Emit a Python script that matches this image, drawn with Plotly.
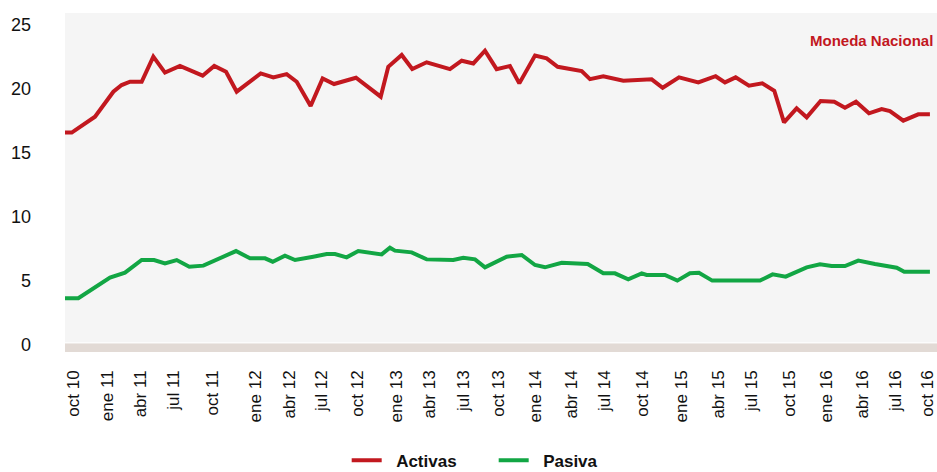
import plotly.graph_objects as go

# x: months elapsed since oct 2010, y: rate in %
activas_x = [0, 0.56, 2.5, 3.19, 4.03, 4.72, 5.42, 6.39, 7.36, 8.33, 9.58, 11.47, 12.44, 13.42,
             14.31, 16.31, 17.36, 18.47, 19.31, 20.47, 21.47, 22.42, 24.25, 26.31, 26.94, 28.06,
             28.94, 30.14, 32.08, 33.06, 34.03, 35.0, 35.97, 37.08, 37.86, 39.17, 40.14, 41.06,
             43.06, 43.75, 44.86, 46.53, 48.89, 49.81, 51.17, 52.78, 54.22, 55.0, 55.89, 57.0,
             58.11, 59.11, 59.92, 60.97, 61.81, 62.97, 64.11, 65.0, 65.92, 67.0, 68.06, 68.75,
             69.86, 71.11, 72.08]
activas_y = [16.6, 16.6, 17.84, 18.75, 19.79, 20.31, 20.57, 20.57, 22.53, 21.28, 21.8, 21.04, 21.8,
             21.35, 19.79, 21.22, 20.91, 21.17, 20.57, 18.67, 20.83, 20.39, 20.88, 19.4, 21.74,
             22.66, 21.56, 22.09, 21.56, 22.21, 22.0, 22.99, 21.55, 21.8, 20.44, 22.62, 22.4,
             21.74, 21.4, 20.77, 21.0, 20.65, 20.76, 20.1, 20.91, 20.52, 21.0, 20.52, 20.91,
             20.26, 20.44, 19.87, 17.4, 18.49, 17.79, 19.06, 19.01, 18.54, 19.01, 18.1, 18.44,
             18.28, 17.53, 18.02, 18.02]

pasiva_x = [0, 1.11, 3.75, 5.0, 6.39, 7.42, 8.33, 9.31, 10.36, 11.53, 14.25, 15.42, 16.67, 17.31,
            18.33, 19.17, 20.69, 21.81, 22.5, 23.47, 24.44, 25.69, 26.39, 27.08, 27.5, 28.89,
            30.14, 32.36, 33.19, 34.17, 35.0, 36.81, 38.06, 39.17, 40.0, 41.39, 43.56, 44.86,
            45.83, 46.94, 48.06, 48.47, 50.0, 51.03, 52.08, 52.83, 53.94, 57.92, 58.97, 60.06,
            61.81, 62.92, 63.89, 65.0, 66.11, 67.5, 69.31, 69.94, 72.08]
pasiva_y = [3.65, 3.65, 5.26, 5.65, 6.64, 6.64, 6.38, 6.64, 6.12, 6.2, 7.34, 6.77, 6.77, 6.51,
            6.98, 6.64, 6.9, 7.11, 7.11, 6.85, 7.34, 7.21, 7.08, 7.6, 7.37, 7.24, 6.69, 6.64,
            6.82, 6.69, 6.07, 6.9, 7.03, 6.25, 6.07, 6.43, 6.33, 5.6, 5.6, 5.13, 5.6, 5.47, 5.47,
            5.03, 5.6, 5.65, 5.03, 5.03, 5.52, 5.34, 6.07, 6.3, 6.17, 6.17, 6.59, 6.33, 6.04,
            5.73, 5.73]

tick_pos = [0.67, 3.5, 6.33, 9.08, 12.25, 15.9, 18.67, 21.4, 24.4, 27.6, 30.4, 33.2, 36.1,
            39.2, 42.25, 45.0, 48.1, 51.4, 54.5, 57.25, 60.4, 63.5, 66.5, 69.2, 71.9]
tick_text = ["oct 10", "ene 11", "abr 11", "jul 11", "oct 11", "ene 12", "abr 12", "jul 12",
             "oct 12", "ene 13", "abr 13", "jul 13", "oct 13", "ene 14", "abr 14", "jul 14",
             "oct 14", "ene 15", "abr 15", "jul 15", "oct 15", "ene 16", "abr 16", "jul 16",
             "oct 16"]
y_ticks = [0, 5, 10, 15, 20, 25]

RED = "#c2181f"
GREEN = "#12a644"
FONT = "Liberation Sans, Arial, sans-serif"
NB = "\u00a0\u00a0"

fig = go.Figure()
fig.add_trace(go.Scatter(x=activas_x, y=activas_y, mode="lines", name=NB + "<b>Activas</b>",
                         line=dict(color=RED, width=4)))
fig.add_trace(go.Scatter(x=pasiva_x, y=pasiva_y, mode="lines", name=NB + "<b>Pasiva</b>",
                         line=dict(color=GREEN, width=4)))

# bottom band under zero line
fig.add_shape(type="rect", xref="paper", yref="y", x0=0, x1=1, y0=-0.6, y1=0.13,
              fillcolor="#e2dad5", line_width=0, layer="below")
fig.add_shape(type="line", xref="paper", yref="y", x0=0, x1=1, y0=0.17, y1=0.17,
              line=dict(color="white", width=1), layer="below")

fig.add_annotation(text="<b>Moneda Nacional</b>", xref="paper", yref="paper", x=1, y=0.92,
                   xanchor="right", yanchor="middle", xshift=-2, showarrow=False,
                   font=dict(color=RED, size=15, family=FONT))

fig.update_layout(
    width=937, height=472,
    margin=dict(l=65, r=0, t=13, b=120),
    paper_bgcolor="white", plot_bgcolor="#f5f5f5",
    font=dict(family=FONT, size=17, color="#111"),
    showlegend=True,
    legend=dict(orientation="h", xref="container", yref="container", x=0.37, y=0.024,
                xanchor="left", yanchor="middle", entrywidth=102, entrywidthmode="pixels",
                font=dict(size=17, family=FONT, color="#111"), itemwidth=30,
                bgcolor="rgba(0,0,0,0)"),
    xaxis=dict(range=[0, 72.67], tickmode="array", tickvals=tick_pos, ticktext=tick_text,
               tickangle=-90, showgrid=False, zeroline=False, showline=False, ticks="",
               ticklabelstandoff=14, ticklabeloverflow="allow", automargin=False,
               tickfont=dict(size=17)),
    yaxis=dict(range=[-0.547, 25.94], tickmode="array", tickvals=y_ticks,
               showgrid=False, zeroline=False, showline=False, ticks="", automargin=False,
               ticklabelstandoff=33, tickfont=dict(size=18)),
)

fig.write_html("out.html", config={"displayModeBar": False},
               post_script="document.body.style.margin='0';document.body.style.overflow='hidden';")
